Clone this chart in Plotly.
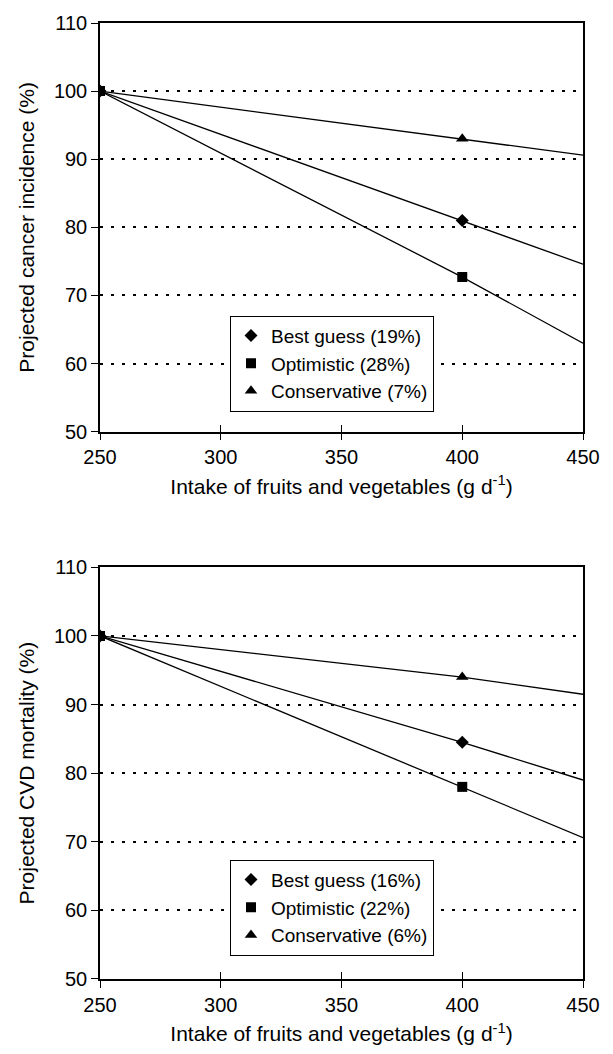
import plotly.graph_objects as go

# ---- data ----
x_pts = [250, 400, 450]          # line vertices (g/day)
x_marks = [250, 400]             # positions carrying markers
x_ticks = [250, 300, 350, 400, 450]
y_ticks = [50, 60, 70, 80, 90, 100, 110]

cancer_best = [100, 81.0, 74.6]
cancer_opt = [100, 72.7, 63.0]
cancer_cons = [100, 93.0, 90.6]
cancer_names = ["Best guess (19%)", "Optimistic (28%)", "Conservative (7%)"]

cvd_best = [100, 84.5, 79.0]
cvd_opt = [100, 78.0, 70.6]
cvd_cons = [100, 94.0, 91.5]
cvd_names = ["Best guess (16%)", "Optimistic (22%)", "Conservative (6%)"]

symbols = ["diamond", "square", "triangle-up"]
msizes = [10, 10, 11]

FONT = "Liberation Sans, Arial, sans-serif"
W, H = 613, 1054
L, R, T, B = 100, 30, 17, 71

fig = go.Figure()

def add_panel(series, names, xa, ya, legend_id):
    for vals in series:
        fig.add_trace(go.Scatter(x=x_pts, y=vals, mode="lines",
                                 line=dict(color="black", width=1.3),
                                 xaxis=xa, yaxis=ya, showlegend=False,
                                 hoverinfo="skip"))
    for vals, name, sym, ms in zip(series, names, symbols, msizes):
        fig.add_trace(go.Scatter(x=x_marks, y=vals[:2], mode="markers",
                                 marker=dict(symbol=sym, size=ms, color="black"),
                                 name=name, xaxis=xa, yaxis=ya,
                                 legend=legend_id))

add_panel([cancer_best, cancer_opt, cancer_cons], cancer_names, "x", "y", "legend")
add_panel([cvd_best, cvd_opt, cvd_cons], cvd_names, "x2", "y2", "legend2")

# invisible traces so the overlay (inside-tick) axes get drawn
fig.add_trace(go.Scatter(x=[x_ticks[0]], y=[y_ticks[0]], mode="markers",
                         marker=dict(opacity=0), xaxis="x3", yaxis="y",
                         showlegend=False, hoverinfo="skip"))
fig.add_trace(go.Scatter(x=[x_ticks[0]], y=[y_ticks[0]], mode="markers",
                         marker=dict(opacity=0), xaxis="x4", yaxis="y2",
                         showlegend=False, hoverinfo="skip"))

plot_h = H - T - B
top_dom = [(983 - 430) / plot_h, 1.0]
bot_dom = [0.0, (983 - 567) / plot_h]

xtitle = "Intake of fruits and vegetables (g d<sup>-1</sup>)"

def xaxis_cfg(anchor):
    return dict(range=[250, 450], tickvals=x_ticks, anchor=anchor,
                showline=True, linecolor="black", linewidth=1.5, mirror=True,
                ticks="outside", ticklen=7, tickcolor="black", tickwidth=1.3,
                showgrid=False, zeroline=False,
                tickfont=dict(family=FONT, size=20, color="black"),
                title=dict(text=xtitle, font=dict(family=FONT, size=21, color="black"),
                           standoff=12))

def xover_cfg(over, anchor):
    return dict(range=[250, 450], tickvals=x_ticks, overlaying=over, anchor=anchor,
                side="bottom", ticks="inside", ticklen=7, tickcolor="black",
                tickwidth=1.3, showticklabels=False, showgrid=False,
                zeroline=False, showline=False)

def yaxis_cfg(dom, anchor, title):
    return dict(range=[50, 110], tickvals=y_ticks, domain=dom, anchor=anchor,
                showline=True, linecolor="black", linewidth=1.5, mirror=True,
                ticks="outside", ticklen=7, tickcolor="black", tickwidth=1.3,
                showgrid=True, gridcolor="black", gridwidth=1.5,
                griddash="3px,8px", zeroline=False,
                tickfont=dict(family=FONT, size=20, color="black"),
                title=dict(text=title, font=dict(family=FONT, size=21, color="black"),
                           standoff=14))

legend_common = dict(bgcolor="white", bordercolor="black", borderwidth=1,
                     font=dict(family=FONT, size=19, color="black"),
                     xanchor="left", yanchor="middle", tracegroupgap=0,
                     itemsizing="trace", itemwidth=30)

# legend centres: on the 60 % gridline of each panel
leg1_y = (983 - (17 + (110 - 60) / 60 * 413)) / plot_h
leg2_y = (983 - 911) / plot_h

fig.update_layout(
    width=W, height=H, margin=dict(l=L, r=R, t=T, b=B),
    paper_bgcolor="white", plot_bgcolor="white",
    xaxis=xaxis_cfg("y"),
    yaxis=yaxis_cfg(top_dom, "x", "Projected cancer incidence (%)"),
    xaxis2=xaxis_cfg("y2"),
    yaxis2=yaxis_cfg(bot_dom, "x2", "Projected CVD mortality (%)"),
    xaxis3=xover_cfg("x", "y"),
    xaxis4=xover_cfg("x2", "y2"),
    legend=dict(x=(230 - L) / (W - L - R), y=leg1_y, **legend_common),
    legend2=dict(x=(230 - L) / (W - L - R), y=leg2_y, **legend_common),
    showlegend=True,
)

fig.write_html("out.html", config={"displayModeBar": False},
               post_script="document.body.style.margin='0';")
